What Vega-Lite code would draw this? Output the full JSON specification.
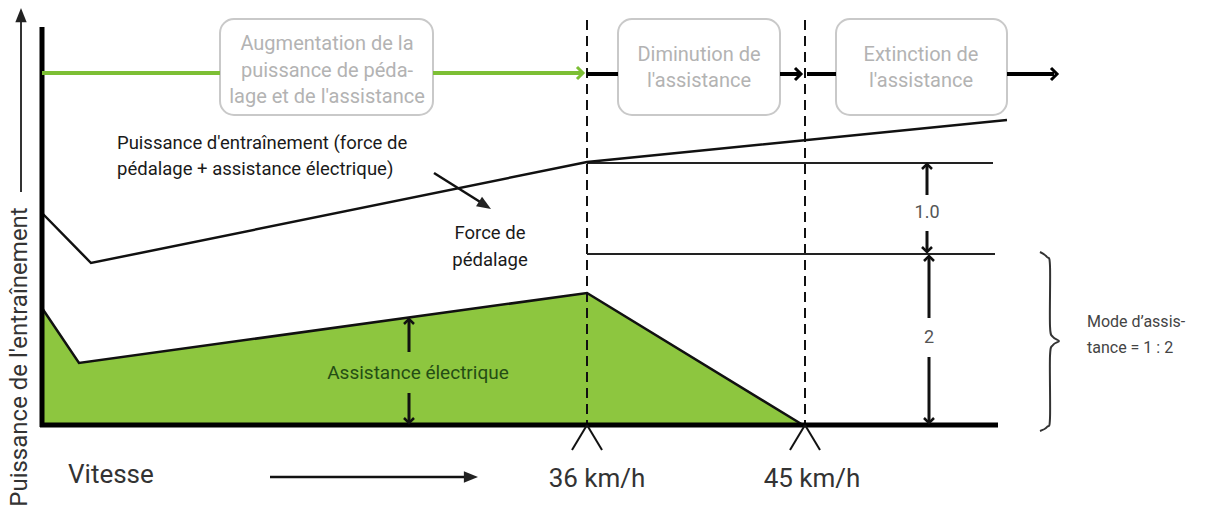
{
  "$schema": "https://vega.github.io/schema/vega-lite/v6.json",
  "width": 1212,
  "height": 517,
  "autosize": {"type": "fit", "contains": "padding"},
  "padding": 0,
  "background": "white",
  "config": {"view": {"stroke": null}, "text": {"font": "Roboto"}},
  "datasets": {
    "assist": [
      {"x": 42, "y": 308}, {"x": 79, "y": 363}, {"x": 587, "y": 293}, {"x": 803, "y": 425}
    ],
    "total": [
      {"x": 42, "y": 213}, {"x": 91, "y": 263}, {"x": 587, "y": 162}, {"x": 1007, "y": 120}
    ],
    "boxes": [
      {"x": 220, "x2": 433, "y": 19, "y2": 115, "stage": "hausse"},
      {"x": 618, "x2": 780, "y": 19, "y2": 115, "stage": "baisse"},
      {"x": 836, "x2": 1007, "y": 19, "y2": 115, "stage": "arret"}
    ],
    "segs": [
      {"kind": "frame", "x": 42, "y": 27, "x2": 42, "y2": 427},
      {"kind": "frame", "x": 40, "y": 425, "x2": 998, "y2": 425},
      {"kind": "dash", "x": 587, "y": 20, "x2": 587, "y2": 425},
      {"kind": "dash", "x": 805, "y": 20, "x2": 805, "y2": 425},
      {"kind": "level", "x": 587, "y": 163, "x2": 993, "y2": 163},
      {"kind": "level", "x": 587, "y": 254, "x2": 995, "y2": 254},
      {"kind": "flowg", "x": 42, "y": 73, "x2": 220, "y2": 73},
      {"kind": "flowg", "x": 433, "y": 73, "x2": 581, "y2": 73},
      {"kind": "flowk", "x": 587, "y": 74, "x2": 618, "y2": 74},
      {"kind": "flowk", "x": 780, "y": 74, "x2": 799, "y2": 74},
      {"kind": "flowk", "x": 807, "y": 74, "x2": 836, "y2": 74},
      {"kind": "flowk", "x": 1007, "y": 74, "x2": 1054, "y2": 74},
      {"kind": "dim", "x": 927, "y": 166, "x2": 927, "y2": 195},
      {"kind": "dim", "x": 927, "y": 231, "x2": 927, "y2": 251},
      {"kind": "dim", "x": 929, "y": 257, "x2": 929, "y2": 318},
      {"kind": "dim", "x": 929, "y": 357, "x2": 929, "y2": 421},
      {"kind": "dim", "x": 409, "y": 321, "x2": 409, "y2": 352},
      {"kind": "dim", "x": 409, "y": 393, "x2": 409, "y2": 422},
      {"kind": "pointer", "x": 434, "y": 173, "x2": 485, "y2": 205},
      {"kind": "pointer", "x": 270, "y": 477, "x2": 468, "y2": 477},
      {"kind": "tick", "x": 572, "y": 450, "x2": 587, "y2": 425},
      {"kind": "tick", "x": 587, "y": 425, "x2": 602, "y2": 450},
      {"kind": "tick", "x": 790, "y": 450, "x2": 805, "y2": 425},
      {"kind": "tick", "x": 805, "y": 425, "x2": 820, "y2": 450},
      {"kind": "ytitle", "x": 21, "y": 192, "x2": 21, "y2": 18}
    ],
    "heads": [
      {"grp": "flowg", "x": 583, "y": 73, "dir": "right"},
      {"grp": "flowk", "x": 801, "y": 74, "dir": "right"},
      {"grp": "flowk", "x": 1057, "y": 74, "dir": "right"},
      {"grp": "dim", "x": 927, "y": 164, "dir": "up"},
      {"grp": "dim", "x": 927, "y": 252, "dir": "down"},
      {"grp": "dim", "x": 929, "y": 256, "dir": "up"},
      {"grp": "dim", "x": 929, "y": 423, "dir": "down"},
      {"grp": "dim", "x": 409, "y": 319, "dir": "up"},
      {"grp": "dim", "x": 409, "y": 423, "dir": "down"},
      {"grp": "solid", "x": 21, "y": 8, "dir": "fup"},
      {"grp": "solid", "x": 478, "y": 477, "dir": "fright"},
      {"grp": "solid", "x": 491, "y": 209, "dir": "fdiag"}
    ],
    "brace": [
      {"seq": 1, "x": 1040, "y": 252},
      {"seq": 2, "x": 1047, "y": 257},
      {"seq": 3, "x": 1050, "y": 266},
      {"seq": 4, "x": 1050, "y": 326},
      {"seq": 5, "x": 1053, "y": 337},
      {"seq": 6, "x": 1059, "y": 341},
      {"seq": 7, "x": 1053, "y": 345},
      {"seq": 8, "x": 1050, "y": 356},
      {"seq": 9, "x": 1050, "y": 418},
      {"seq": 10, "x": 1047, "y": 427},
      {"seq": 11, "x": 1040, "y": 431}
    ],
    "labels": [
      {"grp": "box", "x": 327, "y": 44, "text": "Augmentation de la"},
      {"grp": "box", "x": 327, "y": 71, "text": "puissance de péda-"},
      {"grp": "box", "x": 327, "y": 97, "text": "lage et de l'assistance"},
      {"grp": "box", "x": 699, "y": 55, "text": "Diminution de"},
      {"grp": "box", "x": 699, "y": 81, "text": "l'assistance"},
      {"grp": "box", "x": 921, "y": 55, "text": "Extinction de"},
      {"grp": "box", "x": 921, "y": 81, "text": "l'assistance"},
      {"grp": "note", "x": 117, "y": 143, "text": "Puissance d'entraînement (force de"},
      {"grp": "note", "x": 117, "y": 169, "text": "pédalage + assistance électrique)"},
      {"grp": "mid", "x": 490, "y": 233, "text": "Force de"},
      {"grp": "mid", "x": 490, "y": 260, "text": "pédalage"},
      {"grp": "green", "x": 418, "y": 373, "text": "Assistance électrique"},
      {"grp": "dim", "x": 927, "y": 213, "text": "1.0"},
      {"grp": "dim", "x": 929, "y": 338, "text": "2"},
      {"grp": "speed", "x": 597, "y": 479, "text": "36 km/h"},
      {"grp": "speed", "x": 812, "y": 479, "text": "45 km/h"},
      {"grp": "vitesse", "x": 68, "y": 475, "text": "Vitesse"},
      {"grp": "mode", "x": 1087, "y": 322, "text": "Mode d’assis-"},
      {"grp": "mode", "x": 1087, "y": 348, "text": "tance = 1 : 2"},
      {"grp": "ytitle", "x": 20, "y": 357, "text": "Puissance de l'entraînement"}
    ]
  },
  "encoding": {
    "x": {"field": "x", "type": "quantitative", "axis": null, "scale": {"domain": [0, 1212], "nice": false, "zero": false}},
    "y": {"field": "y", "type": "quantitative", "axis": null, "scale": {"domain": [0, 517], "nice": false, "zero": false, "reverse": true}}
  },
  "layer": [
    {
      "data": {"name": "assist"},
      "mark": {"type": "area", "color": "#8dc63f"},
      "encoding": {"y2": {"datum": 425}}
    },
    {
      "data": {"name": "boxes"},
      "mark": {"type": "rect", "fill": "white", "stroke": "#c9c9c9", "strokeWidth": 2, "cornerRadius": 14},
      "encoding": {"x2": {"field": "x2"}, "y2": {"field": "y2"}}
    },
    {
      "data": {"name": "segs"},
      "transform": [{"filter": "datum.kind === 'dash'"}],
      "mark": {"type": "rule", "color": "#111", "strokeWidth": 2, "strokeDash": [10, 6]},
      "encoding": {"x2": {"field": "x2"}, "y2": {"field": "y2"}}
    },
    {
      "data": {"name": "segs"},
      "transform": [{"filter": "datum.kind === 'level'"}],
      "mark": {"type": "rule", "color": "#222", "strokeWidth": 2},
      "encoding": {"x2": {"field": "x2"}, "y2": {"field": "y2"}}
    },
    {
      "data": {"name": "total"},
      "mark": {"type": "line", "color": "#111", "strokeWidth": 2.5},
      "encoding": {}
    },
    {
      "data": {"name": "assist"},
      "mark": {"type": "line", "color": "#111", "strokeWidth": 2.5},
      "encoding": {}
    },
    {
      "data": {"name": "segs"},
      "transform": [{"filter": "datum.kind === 'frame'"}],
      "mark": {"type": "rule", "color": "#000", "strokeWidth": 5},
      "encoding": {"x2": {"field": "x2"}, "y2": {"field": "y2"}}
    },
    {
      "data": {"name": "segs"},
      "transform": [{"filter": "datum.kind === 'flowg'"}],
      "mark": {"type": "rule", "color": "#7dbf35", "strokeWidth": 4},
      "encoding": {"x2": {"field": "x2"}, "y2": {"field": "y2"}}
    },
    {
      "data": {"name": "segs"},
      "transform": [{"filter": "datum.kind === 'flowk'"}],
      "mark": {"type": "rule", "color": "#000", "strokeWidth": 4},
      "encoding": {"x2": {"field": "x2"}, "y2": {"field": "y2"}}
    },
    {
      "data": {"name": "segs"},
      "transform": [{"filter": "datum.kind === 'dim'"}],
      "mark": {"type": "rule", "color": "#111", "strokeWidth": 3},
      "encoding": {"x2": {"field": "x2"}, "y2": {"field": "y2"}}
    },
    {
      "data": {"name": "segs"},
      "transform": [{"filter": "datum.kind === 'pointer'"}],
      "mark": {"type": "rule", "color": "#111", "strokeWidth": 2.5},
      "encoding": {"x2": {"field": "x2"}, "y2": {"field": "y2"}}
    },
    {
      "data": {"name": "segs"},
      "transform": [{"filter": "datum.kind === 'tick'"}],
      "mark": {"type": "rule", "color": "#111", "strokeWidth": 2},
      "encoding": {"x2": {"field": "x2"}, "y2": {"field": "y2"}}
    },
    {
      "data": {"name": "segs"},
      "transform": [{"filter": "datum.kind === 'ytitle'"}],
      "mark": {"type": "rule", "color": "#333", "strokeWidth": 2},
      "encoding": {"x2": {"field": "x2"}, "y2": {"field": "y2"}}
    },
    {
      "data": {"name": "brace"},
      "mark": {"type": "line", "color": "#333", "strokeWidth": 2, "interpolate": "cardinal"},
      "encoding": {"order": {"field": "seq", "type": "quantitative"}}
    },
    {
      "data": {"name": "heads"},
      "transform": [{"filter": "datum.grp === 'flowg'"}],
      "mark": {"type": "point", "filled": false, "stroke": "#7dbf35", "strokeWidth": 3, "size": 144, "opacity": 1},
      "encoding": {
        "shape": {"field": "dir", "type": "nominal", "legend": null,
          "scale": {"domain": ["right", "up", "down", "fup", "fright", "fdiag"],
            "range": ["M -1 -1 L 0 0 L -1 1", "M -1 1 L 0 0 L 1 1", "M -1 -1 L 0 0 L 1 -1", "M -0.8 2 L 0 0 L 0.8 2 Z", "M -2 -0.8 L 0 0 L -2 0.8 Z", "M -1.27 -1.74 L 0 0 L -2.12 -0.38 Z"]}}
      }
    },
    {
      "data": {"name": "heads"},
      "transform": [{"filter": "datum.grp === 'flowk'"}],
      "mark": {"type": "point", "filled": false, "stroke": "#000", "strokeWidth": 3, "size": 144, "opacity": 1},
      "encoding": {
        "shape": {"field": "dir", "type": "nominal", "legend": null,
          "scale": {"domain": ["right", "up", "down", "fup", "fright", "fdiag"],
            "range": ["M -1 -1 L 0 0 L -1 1", "M -1 1 L 0 0 L 1 1", "M -1 -1 L 0 0 L 1 -1", "M -0.8 2 L 0 0 L 0.8 2 Z", "M -2 -0.8 L 0 0 L -2 0.8 Z", "M -1.27 -1.74 L 0 0 L -2.12 -0.38 Z"]}}
      }
    },
    {
      "data": {"name": "heads"},
      "transform": [{"filter": "datum.grp === 'dim'"}],
      "mark": {"type": "point", "filled": false, "stroke": "#111", "strokeWidth": 2.5, "size": 100, "opacity": 1},
      "encoding": {
        "shape": {"field": "dir", "type": "nominal", "legend": null,
          "scale": {"domain": ["right", "up", "down", "fup", "fright", "fdiag"],
            "range": ["M -1 -1 L 0 0 L -1 1", "M -1 1 L 0 0 L 1 1", "M -1 -1 L 0 0 L 1 -1", "M -0.8 2 L 0 0 L 0.8 2 Z", "M -2 -0.8 L 0 0 L -2 0.8 Z", "M -1.27 -1.74 L 0 0 L -2.12 -0.38 Z"]}}
      }
    },
    {
      "data": {"name": "heads"},
      "transform": [{"filter": "datum.grp === 'solid'"}],
      "mark": {"type": "point", "filled": true, "color": "#222", "size": 200, "opacity": 1},
      "encoding": {
        "shape": {"field": "dir", "type": "nominal", "legend": null,
          "scale": {"domain": ["right", "up", "down", "fup", "fright", "fdiag"],
            "range": ["M -1 -1 L 0 0 L -1 1", "M -1 1 L 0 0 L 1 1", "M -1 -1 L 0 0 L 1 -1", "M -0.8 2 L 0 0 L 0.8 2 Z", "M -2 -0.8 L 0 0 L -2 0.8 Z", "M -1.27 -1.74 L 0 0 L -2.12 -0.38 Z"]}}
      }
    },
    {
      "data": {"name": "labels"},
      "transform": [{"filter": "datum.grp === 'box'"}],
      "mark": {"type": "text", "fontSize": 20, "color": "#b3b3b3", "align": "center", "baseline": "middle"},
      "encoding": {"text": {"field": "text"}}
    },
    {
      "data": {"name": "labels"},
      "transform": [{"filter": "datum.grp === 'note'"}],
      "mark": {"type": "text", "fontSize": 18.5, "color": "#1a1a1a", "align": "left", "baseline": "middle"},
      "encoding": {"text": {"field": "text"}}
    },
    {
      "data": {"name": "labels"},
      "transform": [{"filter": "datum.grp === 'mid'"}],
      "mark": {"type": "text", "fontSize": 18.5, "color": "#1a1a1a", "align": "center", "baseline": "middle"},
      "encoding": {"text": {"field": "text"}}
    },
    {
      "data": {"name": "labels"},
      "transform": [{"filter": "datum.grp === 'green'"}],
      "mark": {"type": "text", "fontSize": 19, "color": "#244d14", "align": "center", "baseline": "middle"},
      "encoding": {"text": {"field": "text"}}
    },
    {
      "data": {"name": "labels"},
      "transform": [{"filter": "datum.grp === 'dim'"}],
      "mark": {"type": "text", "fontSize": 18, "color": "#555", "align": "center", "baseline": "middle"},
      "encoding": {"text": {"field": "text"}}
    },
    {
      "data": {"name": "labels"},
      "transform": [{"filter": "datum.grp === 'speed'"}],
      "mark": {"type": "text", "fontSize": 26, "color": "#333", "align": "center", "baseline": "middle"},
      "encoding": {"text": {"field": "text"}}
    },
    {
      "data": {"name": "labels"},
      "transform": [{"filter": "datum.grp === 'vitesse'"}],
      "mark": {"type": "text", "fontSize": 26, "color": "#333", "align": "left", "baseline": "middle"},
      "encoding": {"text": {"field": "text"}}
    },
    {
      "data": {"name": "labels"},
      "transform": [{"filter": "datum.grp === 'mode'"}],
      "mark": {"type": "text", "fontSize": 16, "color": "#444", "align": "left", "baseline": "middle"},
      "encoding": {"text": {"field": "text"}}
    },
    {
      "data": {"name": "labels"},
      "transform": [{"filter": "datum.grp === 'ytitle'"}],
      "mark": {"type": "text", "fontSize": 24, "color": "#333", "align": "center", "baseline": "middle", "angle": 270},
      "encoding": {"text": {"field": "text"}}
    }
  ]
}
